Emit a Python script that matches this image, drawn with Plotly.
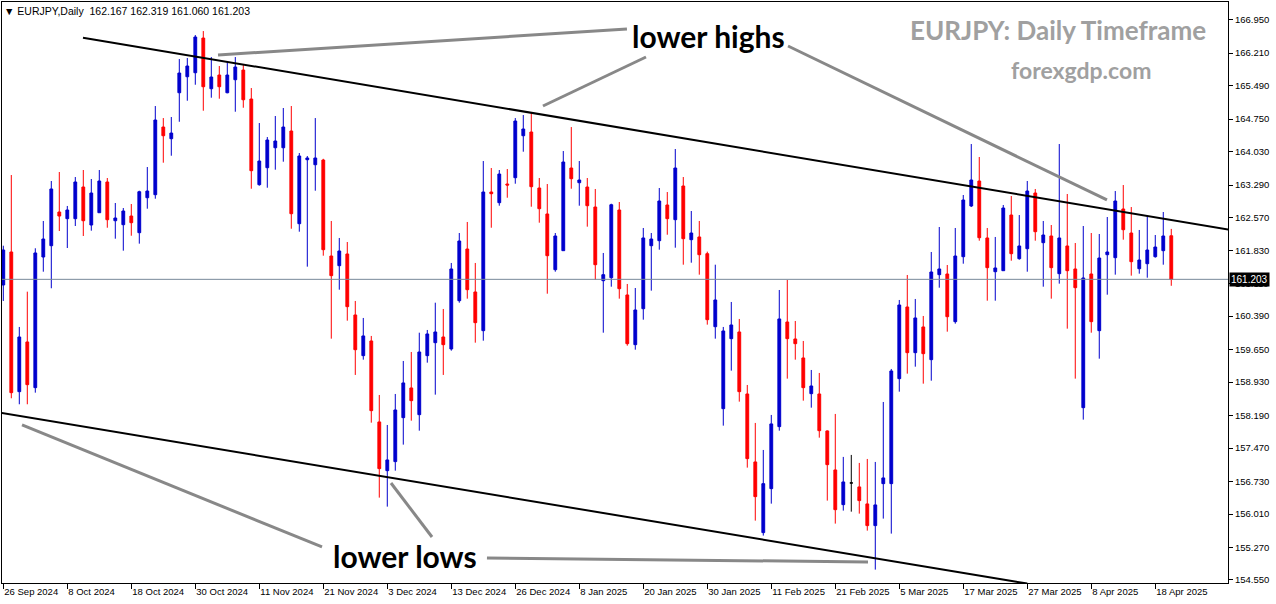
import pandas as pd
import plotly.graph_objects as go

# ---------------- data ----------------
trading_days = pd.bdate_range("2024-09-26", "2025-04-22")
holidays = pd.to_datetime(["2024-12-25", "2025-01-01"])
dates = [d for d in trading_days if d not in holidays]

open_ = [161.078, 161.808, 158.717, 159.817, 158.806, 161.697, 161.947, 162.693, 162.545, 162.545,
         163.246, 162.405, 162.677, 163.357, 162.500, 162.412, 162.604, 162.235, 163.009, 163.076,
         164.573, 164.315, 165.332, 165.686, 165.775, 166.542, 165.421, 165.724, 165.332, 165.620,
         165.834, 165.193, 163.297, 163.673, 164.115, 164.115, 164.485, 162.434, 163.850, 163.739,
         163.843, 161.719, 161.505, 161.764, 160.414, 159.514, 159.839, 158.047, 156.969, 157.169,
         158.142, 158.799, 158.208, 159.514, 159.801, 159.927, 159.662, 160.730, 161.874, 160.923,
         160.067, 163.135, 162.899, 163.312, 163.452, 164.381, 164.463, 163.224, 162.649, 161.416,
         161.837, 163.666, 163.341, 163.246, 162.803, 161.173, 161.239, 162.737, 160.857, 159.757,
         160.553, 161.947, 162.058, 162.848, 162.523, 163.268, 162.080, 162.140, 161.770, 160.155,
         158.341, 159.890, 160.038, 158.666, 157.162, 155.598, 156.571, 157.943, 160.259, 159.883,
         159.463, 158.673, 158.666, 157.848, 156.985, 156.217, 156.697, 156.609, 156.233, 155.753,
         156.682, 156.682, 159.005, 160.591, 159.580, 160.149, 159.425, 161.306, 161.321, 160.266,
         161.704, 162.826, 163.379, 162.118, 161.372, 161.394, 162.626, 161.660, 161.881, 163.113,
         162.014, 162.162, 161.328, 161.941, 161.432, 158.363, 161.321, 160.067, 161.748, 161.682,
         162.759, 162.228, 161.438, 161.549, 161.704, 161.837, 162.167]
high = [161.947, 163.511, 160.149, 160.930, 161.890, 162.494, 163.379, 163.578, 162.826, 163.467,
        163.622, 163.423, 163.622, 163.445, 162.892, 162.781, 162.870, 163.164, 163.688, 165.038,
        164.772, 164.795, 166.078, 166.100, 166.609, 166.697, 166.122, 165.923, 166.034, 166.122,
        165.945, 165.436, 164.662, 164.352, 164.817, 164.994, 165.038, 163.998, 163.932, 164.772,
        163.870, 162.494, 162.118, 162.029, 160.724, 160.348, 159.950, 158.644, 157.980, 158.666,
        159.396, 159.595, 160.022, 160.082, 160.686, 160.547, 161.565, 162.228, 162.472, 161.565,
        163.821, 163.666, 163.622, 163.644, 164.772, 164.839, 164.883, 163.445, 163.312, 162.228,
        164.042, 164.573, 163.821, 163.445, 163.202, 161.786, 162.876, 162.914, 161.100, 161.011,
        162.339, 162.228, 163.224, 163.135, 164.087, 163.467, 162.715, 162.494, 161.815, 161.527,
        160.149, 160.702, 160.326, 158.865, 158.025, 157.427, 158.202, 160.967, 161.188, 160.281,
        159.839, 159.197, 159.131, 157.860, 158.224, 157.273, 157.317, 157.140, 157.228, 157.162,
        158.489, 159.219, 160.746, 161.299, 160.768, 160.392, 161.808, 162.361, 161.520, 162.339,
        163.069, 164.197, 163.910, 162.339, 162.140, 162.848, 163.047, 162.626, 163.379, 163.202,
        162.494, 162.405, 164.197, 163.091, 162.007, 162.383, 162.228, 162.206, 162.582, 163.157,
        163.290, 162.803, 162.295, 162.604, 162.184, 162.693, 162.319]
low = [160.724, 158.571, 158.438, 158.438, 158.695, 161.372, 161.005, 162.272, 161.896, 162.383,
       162.162, 162.279, 162.677, 162.345, 162.102, 161.837, 162.168, 161.992, 162.766, 162.987,
       163.784, 163.938, 164.690, 165.155, 165.509, 164.934, 165.222, 165.200, 165.320, 164.912,
       165.000, 163.208, 163.275, 163.230, 163.629, 163.806, 162.323, 162.257, 161.483, 163.164,
       161.726, 159.890, 160.974, 160.288, 159.087, 159.425, 158.031, 156.372, 156.173, 156.969,
       157.545, 158.075, 157.854, 159.359, 158.651, 159.087, 159.624, 160.686, 160.775, 159.801,
       159.845, 162.345, 162.832, 163.009, 163.319, 164.027, 162.810, 162.456, 160.885, 161.372,
       161.837, 163.208, 162.832, 162.368, 161.195, 160.022, 161.040, 160.775, 159.735, 159.646,
       160.310, 160.952, 161.859, 162.190, 161.903, 161.527, 161.571, 161.306, 160.200, 159.890,
       157.965, 159.182, 158.496, 157.036, 155.863, 155.532, 156.239, 157.854, 159.005, 159.425,
       158.518, 158.363, 157.699, 156.306, 155.797, 156.085, 156.062, 156.018, 155.642, 154.779,
       155.908, 155.576, 158.717, 159.116, 159.270, 158.894, 158.960, 161.018, 160.045, 160.222,
       161.549, 162.803, 162.058, 160.730, 160.730, 161.394, 161.615, 161.637, 161.372, 162.058,
       161.040, 160.775, 161.107, 160.111, 159.005, 158.098, 160.022, 159.447, 160.863, 161.306,
       162.080, 161.284, 161.328, 161.239, 161.682, 161.527, 161.060]
close = [161.852, 158.695, 159.927, 158.872, 161.786, 162.095, 163.202, 162.604, 162.737, 163.357,
         162.500, 163.113, 163.379, 162.522, 162.560, 162.715, 162.456, 163.142, 163.157, 164.728,
         164.381, 164.440, 165.768, 165.923, 166.565, 165.465, 165.680, 165.465, 165.724, 165.901,
         165.177, 163.607, 163.821, 164.286, 164.264, 164.573, 162.655, 163.932, 163.888, 163.888,
         161.859, 161.284, 161.830, 160.598, 159.646, 159.950, 158.297, 157.014, 157.206, 158.312,
         158.910, 158.518, 159.595, 159.994, 160.038, 159.757, 161.432, 162.051, 160.974, 160.244,
         163.135, 163.098, 163.533, 163.290, 164.706, 164.529, 163.253, 162.766, 161.726, 162.162,
         163.799, 163.430, 163.401, 162.832, 161.527, 161.306, 162.854, 160.996, 159.779, 160.525,
         162.118, 162.095, 162.936, 162.545, 163.666, 162.102, 162.228, 161.748, 160.310, 160.746,
         160.060, 160.193, 158.717, 157.235, 156.394, 156.682, 158.003, 160.326, 159.890, 159.779,
         158.806, 158.843, 157.854, 157.102, 156.106, 156.719, 156.697, 156.306, 155.753, 156.211,
         156.808, 159.175, 160.635, 159.580, 160.348, 159.558, 161.365, 161.432, 160.376, 161.719,
         162.958, 163.401, 162.124, 161.461, 161.454, 162.781, 161.770, 161.941, 163.157, 162.257,
         162.184, 161.461, 162.118, 161.394, 161.018, 161.233, 160.266, 161.675, 161.808, 162.936,
         162.301, 161.593, 161.631, 161.852, 161.918, 162.162, 161.203]

y_ticks = [166.950, 166.210, 165.490, 164.750, 164.030, 163.290, 162.570, 161.830, 161.110,
           160.390, 159.650, 158.930, 158.190, 157.470, 156.730, 156.010, 155.270, 154.550]
label_every = 8
last_price = 161.203

# drawn analysis lines: (bar index, price) pairs
upper_trend = [(9.96, 166.550), (153.3, 162.300)]
lower_trend = [(-0.3, 158.250), (128.0, 154.470)]
pointer_lines = [
    [(26.84, 166.167), (77.96, 166.743)],
    [(67.46, 165.039), (80.34, 166.123)],
    [(98.09, 166.366), (137.96, 162.959)],
    [(2.34, 157.980), (39.84, 155.280)],
    [(48.46, 156.696), (53.59, 155.501)],
    [(60.46, 155.037), (108.09, 154.948)],
]
notes = [("lower highs", 88.1, 166.59), ("lower lows", 50.2, 155.08)]

# ---------------- figure ----------------
idx = list(range(len(dates)))
BLUE, RED = "#0000CD", "#FF0000"
doji = [i for i in idx if abs(open_[i] - close[i]) < 1e-9]
norm = [i for i in idx if i not in doji]

fig = go.Figure()
fig.add_trace(go.Candlestick(
    x=[idx[i] for i in norm],
    open=[open_[i] for i in norm], high=[high[i] for i in norm],
    low=[low[i] for i in norm], close=[close[i] for i in norm],
    increasing=dict(line=dict(color=BLUE, width=1), fillcolor=BLUE),
    decreasing=dict(line=dict(color=RED, width=1), fillcolor=RED),
    whiskerwidth=0, showlegend=False, hoverinfo="skip"))
fig.add_trace(go.Candlestick(
    x=[idx[i] for i in doji],
    open=[open_[i] for i in doji], high=[high[i] for i in doji],
    low=[low[i] for i in doji], close=[close[i] for i in doji],
    increasing=dict(line=dict(color="black", width=1), fillcolor="black"),
    decreasing=dict(line=dict(color="black", width=1), fillcolor="black"),
    whiskerwidth=0, showlegend=False, hoverinfo="skip"))

for seg in pointer_lines:
    fig.add_trace(go.Scatter(x=[p[0] for p in seg], y=[p[1] for p in seg], mode="lines",
                             line=dict(color="#888888", width=3), showlegend=False, hoverinfo="skip"))
for seg in (upper_trend, lower_trend):
    fig.add_trace(go.Scatter(x=[p[0] for p in seg], y=[p[1] for p in seg], mode="lines",
                             line=dict(color="black", width=2), showlegend=False, hoverinfo="skip"))

fig.add_hline(y=last_price, line=dict(color="#778899", width=1))

for txt, xx, yy in notes:
    fig.add_annotation(x=xx, y=yy, text=txt, showarrow=False, xanchor="center", yanchor="middle",
                       font=dict(family="Lato", size=30, color="black", weight="bold"))

fig.add_annotation(xref="paper", yref="paper", x=0.8613, y=0.9518, text="EURJPY: Daily Timeframe",
                   showarrow=False, xanchor="center", yanchor="middle",
                   font=dict(family="Lato", size=26, color="#a0a0a0", weight="bold"))
fig.add_annotation(xref="paper", yref="paper", x=0.880, y=0.883, text="forexgdp.com",
                   showarrow=False, xanchor="center", yanchor="middle",
                   font=dict(family="Lato", size=23, color="#a0a0a0", weight="bold"))
fig.add_annotation(xref="paper", yref="paper", x=0.0, y=0.9845,
                   text="▼ EURJPY,Daily  %.3f %.3f %.3f %.3f" % (open_[-1], high[-1], low[-1], close[-1]),
                   showarrow=False, xanchor="left", yanchor="middle",
                   font=dict(family="Liberation Sans", size=10.5, color="black"))
fig.add_annotation(xref="paper", yref="y", x=1, y=last_price, text="%.3f" % last_price,
                   showarrow=False, xanchor="left", yanchor="middle", xshift=1,
                   bgcolor="black", borderpad=1,
                   font=dict(family="Liberation Sans", size=10, color="white"))

tick_idx = idx[::label_every]
tick_text = [f"{dates[i].day} {dates[i].strftime('%b %Y')}" for i in tick_idx]

fig.update_layout(
    template="none",
    width=1276, height=604,
    margin=dict(l=2, r=48, t=2, b=21, autoexpand=False),
    paper_bgcolor="white", plot_bgcolor="white",
    boxgap=0.5,
    xaxis=dict(range=[-0.1625, 153.09], tickvals=tick_idx, ticktext=tick_text, tickangle=0,
               ticks="outside", ticklen=5, tickcolor="black", ticklabelposition="outside right",
               automargin=False, showgrid=False, zeroline=False, showline=True, linecolor="black",
               linewidth=1, mirror=True, rangeslider=dict(visible=False),
               tickfont=dict(family="Liberation Sans", size=9.5, color="black")),
    yaxis=dict(side="right", range=[154.483, 167.340], tickvals=y_ticks,
               ticktext=["%.3f" % v for v in y_ticks], ticks="outside", ticklen=4, tickcolor="black",
               automargin=False, showgrid=False, zeroline=False, showline=True, linecolor="black",
               linewidth=1, mirror=True,
               tickfont=dict(family="Liberation Sans", size=9.5, color="black")),
)

fig.write_html("out.html", config={"displayModeBar": False},
               post_script="document.body.style.margin='0';document.body.style.overflow='hidden';")
